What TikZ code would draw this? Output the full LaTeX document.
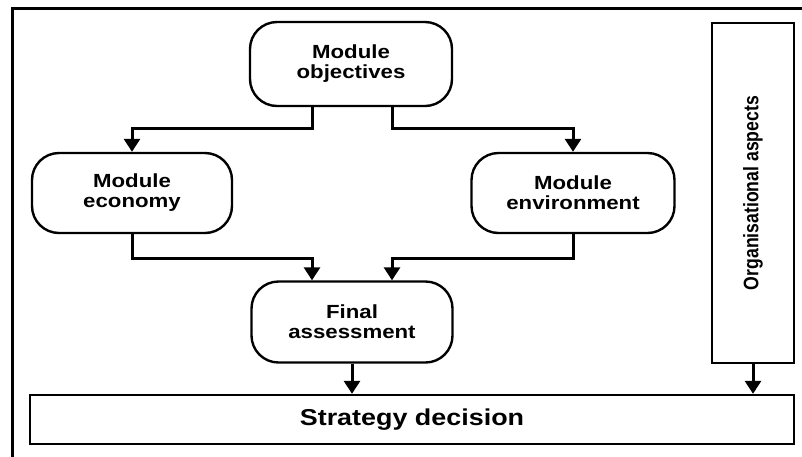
\documentclass[tikz,border=0pt]{standalone}
\usepackage{fontspec}
\setmainfont{Liberation Sans}
\newfontfamily\widefont{Liberation Sans}[FakeStretch=1.17]
\newfontfamily\narrowfont{Liberation Sans}[FakeStretch=0.84]
\usetikzlibrary{arrows.meta}
\begin{document}
\begin{tikzpicture}[x=1pt,y=-1pt,
  rbox/.style={draw=black,line width=2.4pt,rounded corners=27pt,align=center,
    font=\widefont\bfseries\fontsize{19}{20}\selectfont,inner sep=0pt},
  sbox/.style={draw=black,line width=2.4pt,inner sep=0pt},
  arr/.style={draw=black,line width=3pt,-{Triangle[width=16pt,length=13pt]}},
  link/.style={draw=black,line width=3pt}]
\useasboundingbox (0,0) rectangle (802,456);
\begin{scope}
\clip (0,0) rectangle (802,456);
\draw[line width=3pt] (12,470) -- (12,8) -- (815,8);
\end{scope}
\node[rbox,minimum width=202pt,minimum height=84pt] (obj) at (351,64) {Module\\objectives};
\node[rbox,minimum width=200pt,minimum height=80pt] (eco) at (132,193) {Module\\economy};
\node[rbox,minimum width=203pt,minimum height=80pt] (env) at (573,193) {Module\\environment};
\node[rbox,minimum width=201pt,minimum height=81pt] (fin) at (352,322) {Final\\assessment};
\node[sbox,minimum width=764pt,minimum height=49pt,font=\widefont\bfseries\fontsize{23}{24}\selectfont] (strat) at (412,419.5) {Strategy decision};
\node[sbox,minimum width=82pt,minimum height=340pt] (org) at (753,193) {};
\node[rotate=90,font=\narrowfont\bfseries\fontsize{21}{22}\selectfont,inner sep=0pt] (orgtext) at (org.center) {Organisational aspects};
\draw[arr] ([xshift=-39pt]obj.south) -- ++(0,21) -| (eco.north);
\draw[arr] ([xshift=41pt]obj.south) -- ++(0,21) -| (env.north);
\draw[arr] (eco.south) -- ++(0,24) -| ([xshift=-40pt]fin.north);
\draw[arr] (env.south) -- ++(0,24) -| ([xshift=40pt]fin.north);
\draw[arr] (fin.south) -- (fin.south |- strat.north);
\draw[arr] (org.south) -- (org.south |- strat.north);
\end{tikzpicture}
\end{document}
